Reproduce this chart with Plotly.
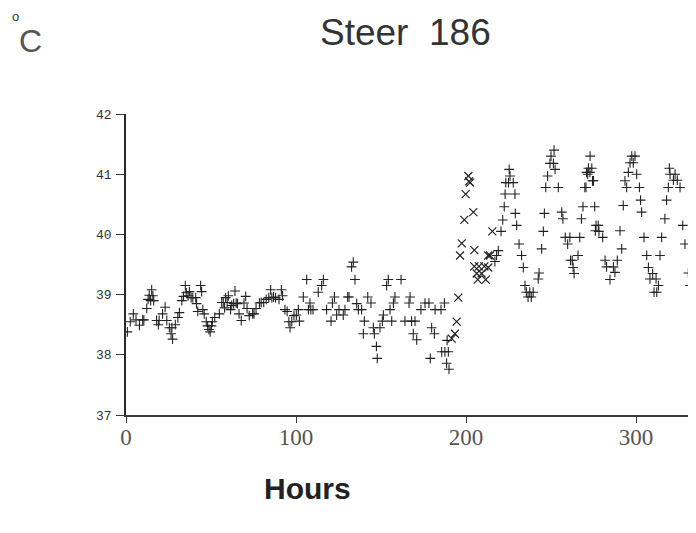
import plotly.graph_objects as go

# ---------------- data ----------------
hours_plus = [
    0.8, 2.5, 4.3, 5.9, 7.9, 9.8, 10.5, 12.2, 13.0, 13.7, 14.5, 15.1, 15.8, 16.3,
    18.0, 19.0, 19.5, 21.5, 23.0, 24.0, 25.5, 26.5, 27.0, 27.4, 29.0, 30.5, 31.4,
    32.8, 33.8, 34.9, 35.5, 36.5, 37.3, 38.3, 39.3, 41.0, 41.5, 42.2, 43.9, 44.5,
    45.2, 46.0, 47.2, 48.0, 48.8, 49.5, 50.3, 50.8, 52.2, 54.9, 56.3, 57.2, 58.0,
    58.6, 59.5, 60.2, 61.5, 62.2, 63.3, 64.1, 64.8, 65.6, 66.5, 67.8, 69.4, 70.4,
    71.2, 72.5, 74.5, 75.3, 76.5, 78.5, 79.5, 81.0, 82.5, 84.0, 85.1, 85.8, 86.8,
    88.0, 90.0, 91.4, 92.1, 93.5, 94.8, 95.8, 96.5, 97.5, 98.8, 100.2,
    101.4, 102.0, 104.3, 106.3, 107.3, 108.2, 108.7, 110.0, 113.1, 115.1, 116.1,
    118.0, 120.6, 121.4, 122.6, 123.9, 125.3, 127.8, 128.8, 130.4, 131.2, 132.7,
    133.7, 134.7, 135.7, 136.7, 138.6, 139.6, 140.2, 142.2, 144.1, 145.5, 146.1,
    147.3, 147.8, 149.4, 150.8, 151.4, 153.3, 154.3, 155.3, 156.3, 157.3, 158.2,
    161.8, 164.1, 166.5, 167.1, 168.0, 169.0, 170.0, 171.0, 173.5, 175.9, 178.2,
    179.0, 179.8, 181.4, 181.8, 185.3, 185.7, 187.3, 187.6, 188.6, 188.9, 189.6,
    190.0,
    217.0, 218.0, 219.0, 220.6, 221.6, 222.5, 223.0, 223.4, 225.0, 225.4, 225.9,
    227.8, 228.8, 229.0, 229.8, 231.2, 232.7, 233.7, 234.7, 235.5, 236.5, 237.5,
    238.4, 239.5, 242.5, 243.0, 244.5, 245.5, 246.1, 246.9, 248.0, 249.4, 250.0,
    251.4, 251.8, 252.4, 254.3, 256.3, 257.0, 258.4, 259.8, 261.1, 261.5, 262.5,
    263.0, 263.6, 265.9, 266.9, 267.9, 268.8, 269.9, 270.6, 270.9, 271.6, 272.0,
    272.9, 273.0, 274.0, 274.4, 275.0, 275.7, 276.1, 276.5, 277.8, 278.2, 280.4,
    281.8, 282.7, 284.7, 286.7, 287.6, 289.0, 290.6, 291.6, 292.5, 293.5, 294.5,
    295.5, 296.5, 297.5, 298.4, 299.4, 300.4, 302.0, 302.7, 303.3, 304.7, 306.3,
    307.3, 308.2, 309.8, 310.6, 311.8, 312.2, 313.2, 314.1, 315.1, 317.0, 318.0,
    319.0, 319.6, 320.0, 322.0, 323.0, 324.3, 325.9, 327.5, 328.8, 330.8, 331.8,
    333.7, 334.2,
]
temp_plus = [
    38.38, 38.55, 38.68, 38.58, 38.49, 38.58, 38.58, 38.77, 38.92, 38.99, 38.90, 39.08, 38.98, 38.90,
    38.57, 38.50, 38.57, 38.68, 38.79, 38.57, 38.45, 38.35, 38.45, 38.26, 38.50, 38.62, 38.70,
    38.90, 38.97, 39.15, 39.03, 38.98, 39.05, 38.95, 38.95, 38.95, 38.85, 38.72, 39.15, 39.05,
    38.75, 38.68, 38.55, 38.48, 38.42, 38.38, 38.48, 38.55, 38.62, 38.68, 38.87, 38.87, 38.78,
    38.95, 38.87, 38.98, 38.75, 38.82, 38.85, 39.06, 38.86, 38.85, 38.68, 38.57, 38.86, 38.97,
    38.77, 38.65, 38.68, 38.68, 38.77, 38.86, 38.87, 38.87, 38.92, 38.95, 39.08, 38.95, 38.96,
    38.95, 38.92, 39.08, 38.98, 38.75, 38.72, 38.55, 38.45, 38.55, 38.65, 38.66,
    38.75, 38.56, 38.96, 39.25, 38.75, 38.86, 38.75, 38.75, 39.04, 39.15, 39.25,
    38.75, 38.56, 38.86, 38.96, 38.66, 38.75, 38.66, 38.75, 38.96, 38.96, 39.46,
    39.54, 39.25, 38.85, 38.75, 38.75, 38.35, 38.56, 38.96, 38.86, 38.45, 38.35,
    38.14, 37.94, 38.45, 38.56, 38.66, 39.15, 39.25, 38.75, 38.56, 38.86, 38.96,
    39.25, 38.56, 38.86, 38.96, 38.56, 38.35, 38.56, 38.25, 38.75, 38.86, 38.86,
    37.94, 38.45, 38.35, 38.75, 38.75, 38.05, 38.86, 38.05, 37.86, 38.24, 38.05,
    37.76,
    39.55, 39.65, 39.73, 40.05, 40.24, 40.46, 40.67, 40.86, 40.86, 41.08, 40.97,
    40.86, 40.67, 40.35, 40.15, 39.84, 39.65, 39.45, 39.15, 39.04, 38.96, 39.04,
    38.96, 39.04, 39.26, 39.36, 39.76, 40.05, 40.35, 40.78, 40.97, 41.18, 41.30,
    41.18, 41.40, 41.08, 40.78, 40.37, 40.26, 39.95, 39.84, 39.95, 39.57, 39.57,
    39.45, 39.35, 39.65, 39.95, 40.26, 40.46, 40.78, 40.78, 41.03, 41.00, 41.10,
    41.03, 41.30, 41.10, 40.89, 40.89, 40.46, 40.06, 40.15, 40.15, 40.05, 39.95,
    39.57, 39.46, 39.25, 39.46, 39.37, 39.57, 40.06, 39.76, 40.48, 40.89, 40.78,
    41.03, 41.19, 41.30, 41.19, 41.30, 41.00, 40.78, 40.57, 40.37, 39.95, 39.65,
    39.45, 39.26, 39.35, 39.04, 39.26, 39.04, 39.15, 39.65, 39.95, 40.26, 40.57,
    40.78, 41.10, 41.00, 40.90, 41.00, 40.90, 40.78, 40.15, 39.84, 39.36, 39.15,
    39.26, 39.04,
]

hours_x = [
    191.6, 193.5, 194.5, 195.5, 196.5, 197.5, 199.0, 199.8, 201.4, 201.8, 202.4,
    204.3, 204.9, 204.9, 206.3, 206.9, 207.6, 209.2, 210.8, 211.6, 213.1, 213.1,
    214.1, 215.5,
]
temp_x = [
    38.27, 38.35, 38.55, 38.95, 39.65, 39.85, 40.24, 40.67, 40.97, 40.88, 40.86,
    40.37, 39.74, 39.47, 39.35, 39.25, 39.47, 39.35, 39.47, 39.25, 39.45, 39.65,
    39.65, 40.05,
]

x_ticks = [0, 100, 200, 300]
x_tick_labels = ["0", "100", "200", "300"]
y_ticks = [37, 38, 39, 40, 41, 42]
y_tick_labels = ["37", "38", "39", "40", "41", "42"]

title_text = "Steer\u00a0\u00a0186"
unit_text = "C"
degree_text = "o"
x_title = "Hours"

# ---------------- figure ----------------
# the page body has an 8px margin, so the figure is drawn 8px smaller
OFF = 8
W, H = 696 - OFF, 533 - OFF
ML, MR, MT, MB = 126 - OFF, 0, 114 - OFF, 118
PW, PH = W - ML - MR, H - MT - MB


def px(xp):  # page pixel -> paper x
    return (xp - OFF - ML) / PW


def py(yp):  # page pixel -> paper y
    return (H - MB - (yp - OFF)) / PH


fig = go.Figure()
fig.add_trace(go.Scatter(
    x=hours_plus, y=temp_plus, mode="markers",
    marker=dict(symbol="cross-thin", size=7, line=dict(width=1.1, color="#222")),
    showlegend=False, hoverinfo="skip",
))
fig.add_trace(go.Scatter(
    x=hours_x, y=temp_x, mode="markers",
    marker=dict(symbol="x-thin", size=8, line=dict(width=1.2, color="#222")),
    showlegend=False, hoverinfo="skip",
))

fig.update_layout(
    width=W, height=H,
    margin=dict(l=ML, r=MR, t=MT, b=MB, pad=0),
    paper_bgcolor="white", plot_bgcolor="white",
    xaxis=dict(
        range=[0, PW / 1.70], showgrid=False, zeroline=False,
        showline=True, linecolor="#3a3a3a", linewidth=1.5,
        ticks="outside", ticklen=6, tickcolor="#3a3a3a", tickwidth=1.2,
        tickvals=x_ticks, ticktext=x_tick_labels,
        tickfont=dict(family="Liberation Serif, DejaVu Serif, serif", size=23, color="#555"),
        ticklabelstandoff=-5,
    ),
    yaxis=dict(
        range=[37, 42], showgrid=False, zeroline=False,
        showline=True, linecolor="#2a2a2a", linewidth=1.5,
        ticks="outside", ticklen=8, tickcolor="#3a3a3a", tickwidth=1.2,
        tickvals=y_ticks, ticktext=y_tick_labels,
        tickfont=dict(family="Liberation Mono, DejaVu Sans Mono, monospace", size=13, color="#333"),
        ticklabelstandoff=2,
    ),
    annotations=[
        dict(text=title_text, x=px(405), y=py(33), xref="paper", yref="paper",
             showarrow=False, xanchor="center", yanchor="middle",
             font=dict(family="Liberation Sans, Arial, sans-serif", size=37, color="#333")),
        dict(text=degree_text, x=px(15), y=py(16), xref="paper", yref="paper",
             showarrow=False, xanchor="center", yanchor="middle",
             font=dict(family="Liberation Sans, Arial, sans-serif", size=13, color="#333")),
        dict(text=unit_text, x=px(30), y=py(41), xref="paper", yref="paper",
             showarrow=False, xanchor="center", yanchor="middle", height=30,
             font=dict(family="Liberation Sans, Arial, sans-serif", size=32, color="#555")),
        dict(text="<b>" + x_title + "</b>", x=px(307), y=py(488), xref="paper", yref="paper",
             showarrow=False, xanchor="center", yanchor="middle",
             font=dict(family="Liberation Sans, Arial, sans-serif", size=30, color="#222")),
    ],
)

fig.write_html("out.html")
